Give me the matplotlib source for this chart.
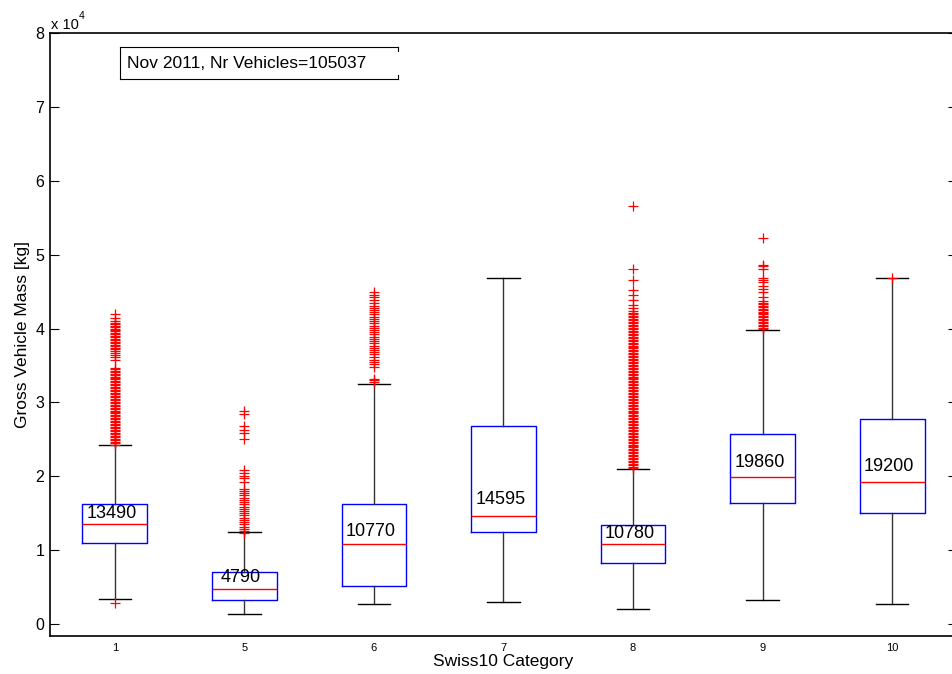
import numpy as np
import matplotlib
matplotlib.use("Agg")
import matplotlib.pyplot as plt
from matplotlib.lines import Line2D

plt.rcParams['font.family'] = ['Liberation Sans', 'DejaVu Sans']

# Swiss10 categories and gross vehicle mass statistics [kg]
categories = ['1', '5', '6', '7', '8', '9', '10']
medians = [13490, 4790, 10770, 14595, 10780, 19860, 19200]
q1 = [11000, 3200, 5100, 12500, 8200, 16400, 15000]
q3 = [16200, 7000, 16200, 26800, 13400, 25700, 27700]
whisk_lo = [3400, 1300, 2700, 3000, 2000, 3200, 2750]
whisk_hi = [24200, 12500, 32500, 46900, 21000, 39800, 46800]
label_y = [15000, 6350, 12500, 16900, 12200, 21800, 21350]

# outliers [x 10^4 kg]
out_1 = [0.29,
         2.43, 2.45, 2.47, 2.49, 2.51, 2.53, 2.55, 2.57, 2.59, 2.61,
         2.63, 2.65, 2.67, 2.69, 2.71, 2.73, 2.75, 2.77, 2.79, 2.81,
         2.83, 2.85, 2.87, 2.89, 2.91, 2.93, 2.95, 2.97, 2.99, 3.01,
         3.03, 3.05, 3.07, 3.09, 3.11, 3.13, 3.15, 3.17, 3.19, 3.21,
         3.23, 3.25, 3.27, 3.29, 3.31, 3.33, 3.35, 3.37, 3.39, 3.41,
         3.43, 3.45, 3.47, 3.58, 3.61, 3.64, 3.67, 3.70, 3.72, 3.74,
         3.76, 3.78, 3.80, 3.82, 3.84, 3.86, 3.88, 3.90, 3.92, 3.94,
         3.96, 3.98, 4.00, 4.02, 4.04, 4.06, 4.08, 4.10, 4.14, 4.20]
out_5 = [1.23, 1.26, 1.29, 1.32, 1.35, 1.38, 1.41, 1.44, 1.47, 1.50, 1.53, 1.56,
         1.59, 1.62, 1.65, 1.68, 1.71, 1.74, 1.77, 1.80, 1.83, 1.92, 1.97, 2.00,
         2.04, 2.09, 2.50, 2.59, 2.63, 2.68, 2.84, 2.88]
out_6 = [3.27, 3.30, 3.32, 3.48, 3.52, 3.55, 3.58, 3.62, 3.65, 3.68, 3.71, 3.74,
         3.77, 3.80, 3.83, 3.86, 3.89, 3.92, 3.95, 3.98, 4.01, 4.04, 4.07, 4.10,
         4.13, 4.16, 4.19, 4.22, 4.25, 4.28, 4.31, 4.34, 4.38, 4.42, 4.46, 4.49]
out_7 = []
out_8 = [2.11, 2.13, 2.15, 2.17, 2.19, 2.21, 2.23, 2.25, 2.27, 2.29,
         2.31, 2.33, 2.35, 2.37, 2.39, 2.41, 2.43, 2.45, 2.47, 2.49,
         2.51, 2.53, 2.55, 2.57, 2.59, 2.61, 2.63, 2.65, 2.67, 2.69,
         2.71, 2.73, 2.75, 2.77, 2.79, 2.81, 2.83, 2.85, 2.87, 2.89,
         2.91, 2.93, 2.95, 2.97, 2.99, 3.01, 3.03, 3.05, 3.07, 3.09,
         3.11, 3.13, 3.15, 3.17, 3.19, 3.21, 3.23, 3.25, 3.27, 3.29,
         3.31, 3.33, 3.35, 3.37, 3.39, 3.41, 3.43, 3.45, 3.47, 3.49,
         3.51, 3.53, 3.55, 3.57, 3.59, 3.61, 3.63, 3.65, 3.67, 3.69,
         3.71, 3.73, 3.75, 3.77, 3.79, 3.81, 3.83, 3.85, 3.87, 3.89,
         3.91, 3.93, 3.95, 3.97, 3.99, 4.01, 4.03, 4.05, 4.07, 4.09,
         4.11, 4.13, 4.15, 4.17, 4.19, 4.21, 4.24, 4.28, 4.32, 4.38,
         4.45, 4.52, 4.65, 4.81, 5.66]
out_9 = [3.99, 4.01, 4.03, 4.05, 4.07, 4.09, 4.11, 4.13, 4.15, 4.17,
         4.19, 4.21, 4.23, 4.25, 4.27, 4.29, 4.31, 4.33, 4.35, 4.37,
         4.42, 4.49, 4.54, 4.58, 4.63, 4.65, 4.69, 4.81, 4.84, 4.86,
         5.23]
out_10 = [4.69]
outliers = [out_1, out_5, out_6, out_7, out_8, out_9, out_10]

stats = []
for i in range(len(categories)):
    stats.append(dict(med=medians[i], q1=q1[i], q3=q3[i],
                      whislo=whisk_lo[i], whishi=whisk_hi[i],
                      fliers=np.array(outliers[i]) * 1e4))

fig = plt.figure(figsize=(9.53, 6.74), dpi=100)
ax = fig.add_axes([50/953, 38/674, 907/953, 603/674])

pos = np.arange(1, len(categories) + 1)
ax.bxp(stats, positions=pos, widths=0.5, capwidths=0.25,
       boxprops=dict(color='#0000ff', linewidth=1.0),
       whiskerprops=dict(color='#333333', linewidth=1.0, linestyle='-'),
       capprops=dict(color='black', linewidth=1.0),
       medianprops=dict(color='#ff0000', linewidth=1.0),
       flierprops=dict(marker='+', markeredgecolor='#ff0000',
                       markersize=7.5, markeredgewidth=0.9, linestyle='none'))

for i in range(len(categories)):
    ax.text(pos[i] - 0.025, label_y[i], str(medians[i]), ha='center',
            va='center', fontsize=13, color='black')

ax.set_xlim(0.5, 7.5)
ax.set_ylim(-1620, 80000)
ax.set_xticks(pos)
ax.set_xticklabels(categories, fontsize=8)
ax.set_yticks(np.arange(0, 80001, 10000))
ax.set_yticklabels([str(v) for v in range(9)], fontsize=11.5)
ax.tick_params(axis='x', length=0, pad=5)
ax.tick_params(axis='y', direction='in', length=6.5, right=True, width=0.8, pad=4)
for s in ax.spines.values():
    s.set_linewidth(1.2)

ax.set_xlabel('Swiss10 Category', fontsize=12.5, labelpad=1)
ax.set_ylabel('Gross Vehicle Mass [kg]', fontsize=12.5, labelpad=4)

# exponent label at the top of the y axis
fig.text(51/953, 1 - 29/674, 'x 10', fontsize=10.5, va='baseline')
fig.text(79/953, 1 - 19/674, '4', fontsize=7.5, va='baseline')

# annotation box
x0, x1 = 120/953, 398/953
y0, y1 = 1 - 79/674, 1 - 47/674
stub = 4/674
for xs, ys in [([x0, x1], [y1, y1]), ([x0, x1], [y0, y0]), ([x0, x0], [y0, y1]),
               ([x1, x1], [y1 - stub, y1]), ([x1, x1], [y0, y0 + stub])]:
    fig.add_artist(Line2D(xs, ys, color='black', linewidth=0.8))
fig.text(127/953, (y0 + y1) / 2, 'Nov 2011, Nr Vehicles=105037',
         fontsize=12.5, va='center')

fig.savefig('out.png', dpi=100)
